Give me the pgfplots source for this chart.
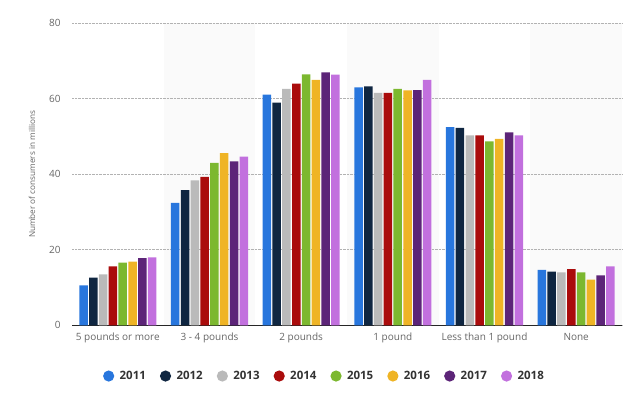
\documentclass[border=0pt]{standalone}
\usepackage{pgfplots}
\pgfplotsset{compat=1.18}
\usepackage{fontspec}
\setmainfont{Open Sans}
\definecolor{c11}{HTML}{2876DD}
\definecolor{c12}{HTML}{0F2641}
\definecolor{c13}{HTML}{BABABA}
\definecolor{c14}{HTML}{AA0C0C}
\definecolor{c15}{HTML}{7CB82F}
\definecolor{c16}{HTML}{EFB425}
\definecolor{c17}{HTML}{5C2478}
\definecolor{c18}{HTML}{C270DE}
\definecolor{band}{HTML}{FAFAFA}
\definecolor{txt}{HTML}{666666}
\pgfplotsset{
  mybar/.style={ybar, bar width=8.5bp, draw=none, fill=#1,
    legend image code/.code={\fill[#1] (3bp,0bp) circle (5.6bp); \path (12bp,0bp);}},
  myband/.style={fill=band, draw=none, forget plot, on layer=axis background},
}
\begin{document}
\begin{tikzpicture}
\begin{axis}[
  set layers,
  at={(72bp,70.7bp)}, anchor=south west,
  scale only axis, width=550bp, height=302bp,
  xmin=-0.5, xmax=5.5, ymin=0, ymax=80,
  axis x line*=bottom, axis y line*=left,
  y axis line style={draw=none},
  x axis line style={draw=black!85, line width=1.3bp},
  tick style={draw=none},
  ytick={0,20,40,60,80},
  xtick={0,1,2,3,4,5},
  xticklabels={5 pounds or more, 3 - 4 pounds, 2 pounds, 1 pound, Less than 1 pound, None},
  /pgf/number format/assume math mode=true,
  ymajorgrids, major grid style={densely dotted, black!30, line width=0.8bp},
  tick label style={font=\fontsize{10bp}{12bp}\selectfont, text=txt},
  yticklabel style={xshift=-8bp},
  xticklabel style={yshift=-4.5bp},
  ylabel={Number of consumers in millions},
  ylabel style={at={(axis description cs:-0.0727,0.5)}, anchor=center, font=\fontsize{8.2bp}{10bp}\selectfont, text=txt},
  legend columns=8,
  legend style={at={(0.459,-0.168)}, anchor=center, draw=none, fill=none,
    font=\bfseries\fontsize{11.5bp}{13bp}\selectfont, text=black!80,
    /tikz/every even column/.append style={column sep=12bp}},
]
\addplot[myband] coordinates {(0.5,0) (1.5,0) (1.5,80) (0.5,80)} -- cycle;
\addplot[myband] coordinates {(2.5,0) (3.5,0) (3.5,80) (2.5,80)} -- cycle;
\addplot[myband] coordinates {(4.5,0) (5.5,0) (5.5,80) (4.5,80)} -- cycle;
\addplot[mybar=c11, bar shift=-34.3bp] coordinates {(0,10.6) (1,32.4) (2,61.1) (3,63.0) (4,52.5) (5,14.7)};
\addplot[mybar=c12, bar shift=-24.5bp] coordinates {(0,12.6) (1,35.8) (2,59.0) (3,63.3) (4,52.3) (5,14.2)};
\addplot[mybar=c13, bar shift=-14.7bp] coordinates {(0,13.5) (1,38.4) (2,62.6) (3,61.6) (4,50.3) (5,14.0)};
\addplot[mybar=c14, bar shift=-4.9bp] coordinates {(0,15.6) (1,39.3) (2,64.0) (3,61.6) (4,50.3) (5,14.9)};
\addplot[mybar=c15, bar shift=4.9bp] coordinates {(0,16.6) (1,43.0) (2,66.5) (3,62.6) (4,48.7) (5,14.0)};
\addplot[mybar=c16, bar shift=14.7bp] coordinates {(0,16.9) (1,45.6) (2,65.0) (3,62.2) (4,49.4) (5,12.1)};
\addplot[mybar=c17, bar shift=24.5bp] coordinates {(0,17.8) (1,43.4) (2,67.0) (3,62.3) (4,51.1) (5,13.2)};
\addplot[mybar=c18, bar shift=34.3bp] coordinates {(0,18.0) (1,44.7) (2,66.4) (3,65.0) (4,50.3) (5,15.6)};
\legend{2011,2012,2013,2014,2015,2016,2017,2018}
\end{axis}
\path (0,0) rectangle (640bp,396bp);
\end{tikzpicture}
\end{document}
